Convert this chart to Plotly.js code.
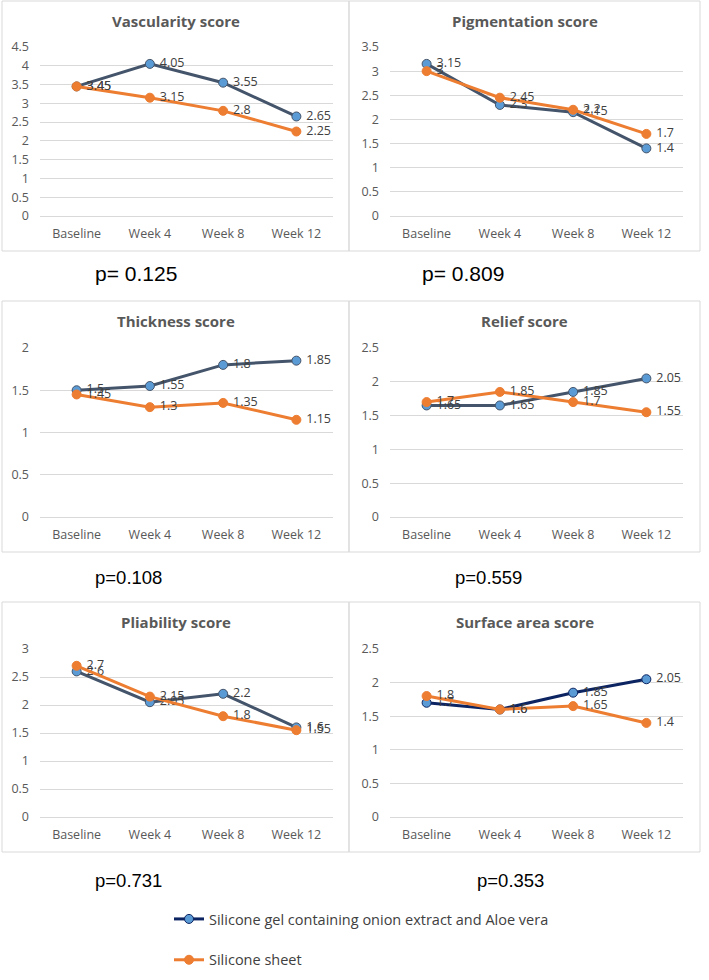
<!DOCTYPE html>
<html><head><meta charset="utf-8">
<script src="https://cdn.plot.ly/plotly-3.0.1.min.js"></script>
<style>html,body{margin:0;padding:0;background:#fff;}#chart{width:709px;height:980px;}</style>
</head><body><div id="chart"></div>
<script>
const categories = ['Baseline', 'Week 4', 'Week 8', 'Week 12'];
const seriesNames = ['Silicone gel containing onion extract and Aloe vera', 'Silicone sheet'];
const panelTitles = ['Vascularity score', 'Pigmentation score', 'Thickness score', 'Relief score', 'Pliability score', 'Surface area score'];
const pValues = ['p= 0.125', 'p= 0.809', 'p=0.108', 'p=0.559', 'p=0.731', 'p=0.353'];
const yMax = [4.5, 3.5, 2, 2.5, 3, 2.5];

const vascularityGel = [3.45, 4.05, 3.55, 2.65];
const vascularitySheet = [3.45, 3.15, 2.8, 2.25];
const pigmentationGel = [3.15, 2.3, 2.15, 1.4];
const pigmentationSheet = [3, 2.45, 2.2, 1.7];
const thicknessGel = [1.5, 1.55, 1.8, 1.85];
const thicknessSheet = [1.45, 1.3, 1.35, 1.15];
const reliefGel = [1.65, 1.65, 1.85, 2.05];
const reliefSheet = [1.7, 1.85, 1.7, 1.55];
const pliabilityGel = [2.6, 2.05, 2.2, 1.6];
const pliabilitySheet = [2.7, 2.15, 1.8, 1.55];
const surfaceGel = [1.7, 1.6, 1.85, 2.05];
const surfaceSheet = [1.8, 1.6, 1.65, 1.4];

const gelData = [vascularityGel, pigmentationGel, thicknessGel, reliefGel, pliabilityGel, surfaceGel];
const sheetData = [vascularitySheet, pigmentationSheet, thicknessSheet, reliefSheet, pliabilitySheet, surfaceSheet];

const W = 709, H = 980;
const px = v => v / W;
const py = v => 1 - v / H;

const rowTop = [1, 301, 602];
const rowBottom = [251, 552, 852];
const plotTop = [47, 348, 649];
const plotBottom = [216, 517, 817];
const colLeft = [2, 349];
const colRight = [349, 700];
const plotLeft = [40, 390];
const plotRight = [333, 683];
const pvX = [93, 420, 93, 453, 93, 475];
const pvY = [273, 577, 880];
const pvSize = [21, 21, 18.5, 18.5, 18.5, 18.5];

const labelFont = {family: 'Open Sans, sans-serif', size: 12.5, color: '#404040'};
const tickFont = {family: 'Open Sans, sans-serif', size: 12.5, color: '#595959'};
const pad = '\u00a0';

const traces = [];
const layout = {
  width: W, height: H,
  margin: {l: 0, r: 0, t: 0, b: 0},
  paper_bgcolor: '#fff', plot_bgcolor: '#fff',
  showlegend: true,
  legend: {
    x: px(169), y: py(903), xanchor: 'left', yanchor: 'top',
    font: {family: 'Open Sans, sans-serif', size: 14.5, color: '#404040'},
    tracegroupgap: 19, traceorder: 'grouped', bgcolor: 'rgba(0,0,0,0)'
  },
  shapes: [], annotations: []
};

for (let i = 0; i < 6; i++) {
  const row = Math.floor(i / 2), col = i % 2;
  const n = i + 1;
  const xa = n === 1 ? 'x' : 'x' + n;
  const ya = n === 1 ? 'y' : 'y' + n;
  const gelColor = i === 5 ? '#0c2461' : '#44546A';
  traces.push({
    type: 'scatter', mode: 'lines+markers+text',
    x: categories, y: gelData[i], text: gelData[i].map(v => pad + String(v)),
    textposition: 'middle right', textfont: labelFont, cliponaxis: false,
    line: {color: gelColor, width: 3},
    marker: {size: 9, color: '#5B9BD5', line: {color: gelColor, width: 1}},
    name: seriesNames[0], legendgroup: 'g1', showlegend: i === 5,
    xaxis: xa, yaxis: ya, hoverinfo: 'skip'
  });
  traces.push({
    type: 'scatter', mode: 'lines+markers+text',
    x: categories, y: sheetData[i], text: sheetData[i].map(v => pad + String(v)),
    textposition: 'middle right', textfont: labelFont, cliponaxis: false,
    line: {color: '#ED7D31', width: 3},
    marker: {size: 9, color: '#ED7D31', line: {color: '#ED7D31', width: 1}},
    name: seriesNames[1], legendgroup: 'g2', showlegend: i === 5,
    xaxis: xa, yaxis: ya, hoverinfo: 'skip'
  });
  const xKey = n === 1 ? 'xaxis' : 'xaxis' + n;
  const yKey = n === 1 ? 'yaxis' : 'yaxis' + n;
  layout[xKey] = {
    domain: [px(plotLeft[col]), px(plotRight[col])], anchor: ya,
    type: 'category', range: [-0.5, 3.5],
    showgrid: false, zeroline: false, showline: false, ticks: '',
    tickfont: tickFont, ticklabelstandoff: 8, fixedrange: true
  };
  layout[yKey] = {
    domain: [py(plotBottom[row]), py(plotTop[row])], anchor: xa,
    range: [0, yMax[i]], tick0: 0, dtick: 0.5,
    showgrid: true, gridcolor: '#d9d9d9', gridwidth: 1,
    zeroline: true, zerolinecolor: '#d9d9d9', zerolinewidth: 1,
    showline: false, ticks: '', tickfont: tickFont, ticklabelstandoff: 10, fixedrange: true
  };
  layout.shapes.push({
    type: 'rect', xref: 'paper', yref: 'paper',
    x0: px(colLeft[col]), x1: px(colRight[col]), y0: py(rowBottom[row]), y1: py(rowTop[row]),
    line: {color: '#d9d9d9', width: 1}, fillcolor: 'rgba(0,0,0,0)', layer: 'below'
  });
  layout.annotations.push({
    xref: 'paper', yref: 'paper', x: px((colLeft[col] + colRight[col]) / 2), y: py(rowTop[row] + 20),
    xanchor: 'center', yanchor: 'middle', showarrow: false,
    text: '<b>' + panelTitles[i] + '</b>',
    font: {family: 'Open Sans, sans-serif', size: 15, color: '#595959'}
  });
  layout.annotations.push({
    xref: 'paper', yref: 'paper', x: px(pvX[i]), y: py(pvY[row]),
    xanchor: 'left', yanchor: 'middle', showarrow: false,
    text: pValues[i],
    font: {family: 'Liberation Sans, Arial, sans-serif', size: pvSize[i], color: '#000'}
  });
}

Plotly.newPlot('chart', traces, layout, {staticPlot: true, displayModeBar: false});
</script>
</body></html>
